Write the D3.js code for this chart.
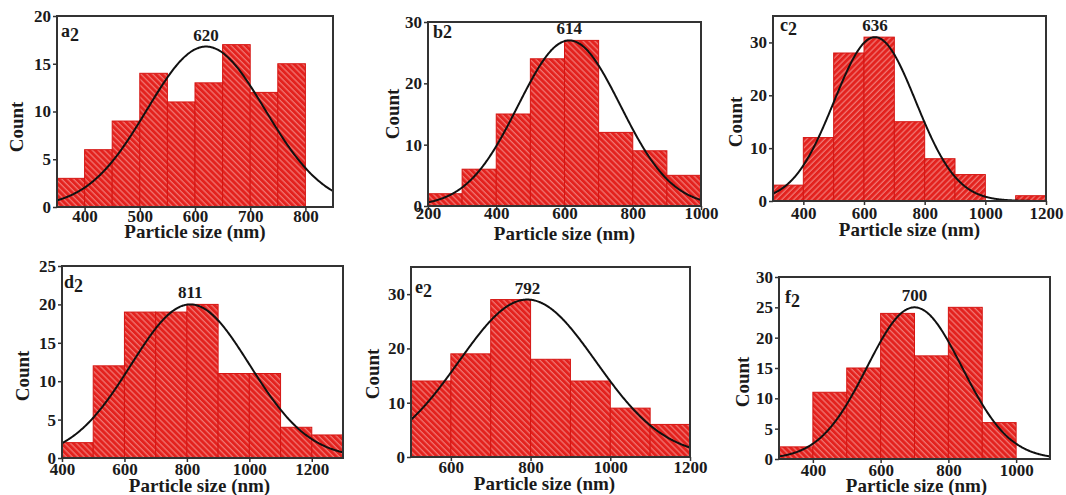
<!DOCTYPE html>
<html>
<head>
<meta charset="utf-8">
<script src="https://cdn.jsdelivr.net/npm/d3@7/dist/d3.min.js"></script>
<style>
  html, body { margin: 0; padding: 0; background: #fff; }
  svg { display: block; }
  text { font-family: "Liberation Serif", "Times New Roman", serif; font-weight: bold; fill: #1a1a1a; }
</style>
</head>
<body>
<svg id="chart" width="1066" height="495"></svg>
<script>
// ---- Particle size histograms (bin edges in nm, counts per bin) ----
const aEdges = [350, 400, 450, 500, 550, 600, 650, 700, 750, 800];
const aCounts = [3, 6, 9, 14, 11, 13, 17, 12, 15];
const aXTicks = [400, 500, 600, 700, 800];
const aYTicks = [0, 5, 10, 15, 20];

const bEdges = [200, 300, 400, 500, 600, 700, 800, 900, 1000];
const bCounts = [2, 6, 15, 24, 27, 12, 9, 5];
const bXTicks = [200, 400, 600, 800, 1000];
const bYTicks = [0, 10, 20, 30];

const cEdges = [300, 400, 500, 600, 700, 800, 900, 1000, 1100, 1200];
const cCounts = [3, 12, 28, 31, 15, 8, 5, 0, 1];
const cXTicks = [400, 600, 800, 1000, 1200];
const cYTicks = [0, 10, 20, 30];

const dEdges = [400, 500, 600, 700, 800, 900, 1000, 1100, 1200, 1300];
const dCounts = [2, 12, 19, 19, 20, 11, 11, 4, 3];
const dXTicks = [400, 600, 800, 1000, 1200];
const dYTicks = [0, 5, 10, 15, 20, 25];

const eEdges = [500, 600, 700, 800, 900, 1000, 1100, 1200];
const eCounts = [14, 19, 29, 18, 14, 9, 6];
const eXTicks = [600, 800, 1000, 1200];
const eYTicks = [0, 10, 20, 30];

const fEdges = [300, 400, 500, 600, 700, 800, 900, 1000];
const fCounts = [2, 11, 15, 24, 17, 25, 6];
const fXTicks = [400, 600, 800, 1000];
const fYTicks = [0, 5, 10, 15, 20, 25, 30];

// Axis ranges
const xDomains = [[350, 850], [200, 1000], [300, 1200], [400, 1300], [500, 1200], [300, 1100]];
const yDomains = [[0, 20], [0, 30], [0, 35], [0, 25], [0, 35], [0, 30]];

// Gaussian fit of each distribution: centre (nm), peak count, width (nm)
const fitCentres = [620, 614, 636, 811, 792, 700];
const fitPeaks = [16.8, 27, 31, 20, 29, 25];
const fitSigmas = [107, 150, 135, 190, 172, 140];

// Panel tags: letter + subscript flag
const tagLetters = ["a", "b", "c", "d", "e", "f"];
const tagSubscript = [true, false, true, true, true, true];

// ---- Layout of the six frames ----
const layout = [
  { l: 57,  r: 333,  t: 16,  b: 207, tickY: 222, titleY: 238, titleDx: 0,  countX: 17,  countY: 127, tagX: 61,  tagY: 37 },
  { l: 428, r: 701,  t: 22,  b: 206, tickY: 219, titleY: 240, titleDx: 0,  countX: 393, countY: 114, tagX: 433, tagY: 38 },
  { l: 773, r: 1046, t: 16,  b: 201, tickY: 219, titleY: 236, titleDx: 0,  countX: 736, countY: 122, tagX: 780, tagY: 31 },
  { l: 62,  r: 343,  t: 266, b: 458, tickY: 475, titleY: 492, titleDx: -3, countX: 23,  countY: 376, tagX: 64,  tagY: 288 },
  { l: 411, r: 690,  t: 267, b: 457, tickY: 473, titleY: 490, titleDx: -6, countX: 373, countY: 374, tagX: 415, tagY: 293 },
  { l: 779, r: 1050, t: 277, b: 459, tickY: 476, titleY: 492, titleDx: 2,  countX: 743, countY: 382, tagX: 785, tagY: 303 }
];

const panels = [
  { edges: aEdges, counts: aCounts, xTicks: aXTicks, yTicks: aYTicks, hatch: "back" },
  { edges: bEdges, counts: bCounts, xTicks: bXTicks, yTicks: bYTicks, hatch: "back" },
  { edges: cEdges, counts: cCounts, xTicks: cXTicks, yTicks: cYTicks, hatch: "fwd" },
  { edges: dEdges, counts: dCounts, xTicks: dXTicks, yTicks: dYTicks, hatch: "back" },
  { edges: eEdges, counts: eCounts, xTicks: eXTicks, yTicks: eYTicks, hatch: "back" },
  { edges: fEdges, counts: fCounts, xTicks: fXTicks, yTicks: fYTicks, hatch: "back" }
];

const RED = "#e3221e";
const svg = d3.select("#chart");
const defs = svg.append("defs");
const plain = d3.format("d");

// Diagonal hatch fills for the bars
function hatchPattern(id, angle) {
  const p = defs.append("pattern")
    .attr("id", id)
    .attr("patternUnits", "userSpaceOnUse")
    .attr("width", 4.2).attr("height", 4.2)
    .attr("patternTransform", `rotate(${angle})`);
  p.append("rect").attr("width", 4.2).attr("height", 4.2).attr("fill", RED);
  p.append("line").attr("x1", 1).attr("y1", 0).attr("x2", 1).attr("y2", 4.2)
    .attr("stroke", "#f6a3a0").attr("stroke-width", 1.1).attr("stroke-opacity", 0.75);
}
hatchPattern("hatch-back", -45);
hatchPattern("hatch-fwd", 45);

panels.forEach((p, i) => {
  const L = layout[i];
  const x = d3.scaleLinear().domain(xDomains[i]).range([L.l, L.r]);
  const y = d3.scaleLinear().domain(yDomains[i]).range([L.b, L.t]);
  const g = svg.append("g");

  const clipId = "clip" + i;
  defs.append("clipPath").attr("id", clipId)
    .append("rect").attr("x", L.l).attr("y", L.t).attr("width", L.r - L.l).attr("height", L.b - L.t);

  // Histogram bars
  const bins = p.counts.map((c, k) => ({ x0: p.edges[k], x1: p.edges[k + 1], c }));
  g.append("g").selectAll("rect").data(bins.filter(d => d.c > 0)).join("rect")
    .attr("x", d => x(d.x0))
    .attr("width", d => x(d.x1) - x(d.x0))
    .attr("y", d => y(d.c))
    .attr("height", d => y(0) - y(d.c))
    .attr("fill", `url(#hatch-${p.hatch})`)
    .attr("stroke", "#d51512")
    .attr("stroke-width", 1);

  // Gaussian fit curve
  const gauss = v => fitPeaks[i] * Math.exp(-Math.pow(v - fitCentres[i], 2) / (2 * fitSigmas[i] * fitSigmas[i]));
  const xs = d3.range(xDomains[i][0], xDomains[i][1] + 1, 2);
  g.append("path")
    .datum(xs)
    .attr("clip-path", `url(#${clipId})`)
    .attr("fill", "none")
    .attr("stroke", "#111")
    .attr("stroke-width", 2)
    .attr("d", d3.line().x(v => x(v)).y(v => y(gauss(v))).curve(d3.curveBasis));

  // Frame
  g.append("rect")
    .attr("x", L.l).attr("y", L.t)
    .attr("width", L.r - L.l).attr("height", L.b - L.t)
    .attr("fill", "none").attr("stroke", "#333").attr("stroke-width", 2);

  // Axes
  const xAxis = g.append("g").attr("transform", `translate(0,${L.b})`)
    .call(d3.axisBottom(x).tickValues(p.xTicks).tickFormat(plain).tickSize(4).tickSizeOuter(0).tickPadding(2));
  xAxis.attr("font-family", null);
  xAxis.select(".domain").remove();
  xAxis.selectAll("line").attr("stroke", "#333").attr("stroke-width", 1.5);
  xAxis.selectAll("text")
    .attr("y", null).attr("dy", null)
    .attr("transform", `translate(0,${L.tickY - L.b})`)
    .style("font-size", "17px").attr("fill", "#1a1a1a");

  const yAxis = g.append("g").attr("transform", `translate(${L.l},0)`)
    .call(d3.axisLeft(y).tickValues(p.yTicks).tickFormat(plain).tickSize(4).tickSizeOuter(0).tickPadding(2));
  yAxis.attr("font-family", null);
  yAxis.select(".domain").remove();
  yAxis.selectAll("line").attr("stroke", "#333").attr("stroke-width", 1.5);
  yAxis.selectAll("text")
    .style("font-size", "17px").attr("fill", "#1a1a1a");

  // Axis titles
  g.append("text")
    .attr("x", (L.l + L.r) / 2 + L.titleDx).attr("y", L.titleY)
    .attr("text-anchor", "middle")
    .style("font-size", "19px")
    .text("Particle size (nm)");

  g.append("text")
    .attr("transform", `translate(${L.countX + 6},${L.countY}) rotate(-90)`)
    .attr("text-anchor", "middle")
    .style("font-size", "19px")
    .text("Count");

  // Mean size above the fit peak
  g.append("text")
    .attr("x", x(fitCentres[i])).attr("y", y(fitPeaks[i]) - 6)
    .attr("text-anchor", "middle")
    .style("font-size", "17px")
    .text(fitCentres[i]);

  // Panel tag
  const tag = g.append("text").attr("x", L.tagX).attr("y", L.tagY).style("font-size", "18px");
  tag.append("tspan").text(tagLetters[i]);
  tag.append("tspan").attr("dy", tagSubscript[i] ? 4 : 0).text("2");
});
</script>
</body>
</html>
